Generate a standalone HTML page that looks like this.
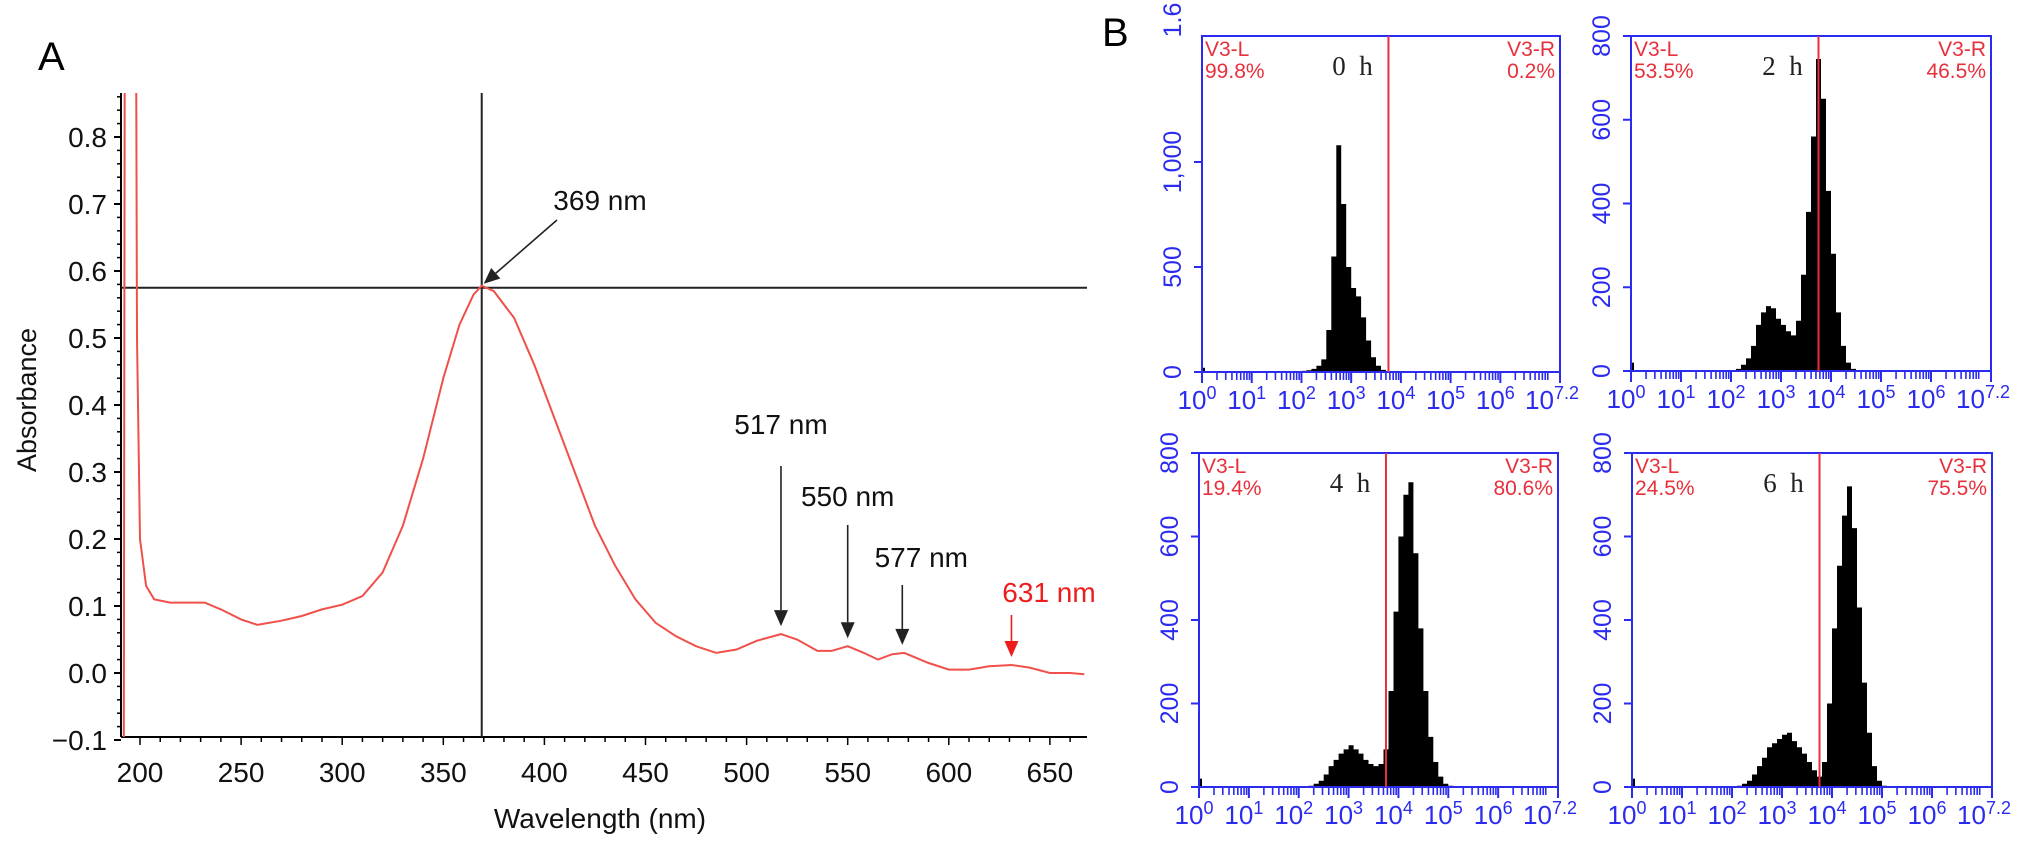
<!DOCTYPE html>
<html><head><meta charset="utf-8"><style>
html,body{margin:0;padding:0;background:#fff;}
svg{display:block;}
</style></head><body>
<svg id="fig" xmlns="http://www.w3.org/2000/svg" width="2032" height="848" viewBox="0 0 2032 848">
<defs><clipPath id="clipA"><rect x="121" y="93" width="966" height="644"/></clipPath></defs>
<text x="38" y="70" font-family="Liberation Sans, sans-serif" font-size="40">A</text>
<text x="1102" y="46" font-family="Liberation Sans, sans-serif" font-size="40">B</text>
<g id="gA"></g>
<g id="gB"></g>
</svg>
<script>
// ---- Panel A data ----
const absWavelength=[192,192.5,198,198.5,200,203,207,215,225,232,240,250,258,270,280,290,300,310,320,330,340,350,358,365,369,375,385,395,405,415,425,435,445,455,465,475,485,495,505,517,525,535,542,550,558,565,572,578,590,600,610,620,631,640,650,660,667];
const absValues=[-0.1,1.0,1.0,0.5,0.2,0.13,0.11,0.105,0.105,0.105,0.095,0.08,0.072,0.078,0.085,0.095,0.102,0.115,0.15,0.22,0.32,0.44,0.52,0.565,0.578,0.57,0.53,0.46,0.38,0.3,0.22,0.16,0.11,0.075,0.055,0.04,0.03,0.035,0.048,0.058,0.05,0.033,0.033,0.04,0.03,0.02,0.028,0.03,0.015,0.005,0.005,0.01,0.012,0.008,0.0,0.0,-0.002];
const absYTicks=[-0.1,0.0,0.1,0.2,0.3,0.4,0.5,0.6,0.7,0.8];
const absXTicks=[200,250,300,350,400,450,500,550,600,650];
const peakNm=[517,550,577];
const peakLabels=["517 nm","550 nm","577 nm"];
const mainPeakNm=369, mainPeakAbs=0.575, redPeakNm=631;

// ---- Panel B data ----
const histStart=[2.0,2.0,2.2,2.1];
const histCounts0=[5,8,15,30,60,200,550,1080,800,500,400,360,260,150,70,30,10,3];
const histCounts2=[2,5,15,30,60,110,140,155,150,125,110,95,85,120,230,380,560,745,650,430,280,140,60,20,5];
const histCounts4=[3,8,15,30,50,65,80,90,100,90,80,65,55,50,55,90,230,420,600,700,730,560,380,230,120,60,25,8,3];
const histCounts6=[3,8,15,30,50,70,95,105,115,125,130,110,95,80,60,40,25,60,200,380,530,650,720,620,430,250,130,50,15,3];
const histTimes=["0 h","2 h","4 h","6 h"];
const leftPct=["99.8%","53.5%","19.4%","24.5%"];
const rightPct=["0.2%","46.5%","80.6%","75.5%"];
const histYMax=[1600,800,800,800];
const gateLog=3.75;
const xDecades=[0,1,2,3,4,5,6];

const NS="http://www.w3.org/2000/svg";
function mk(tag,attrs,parent,txt){const e=document.createElementNS(NS,tag);for(const k in attrs)e.setAttribute(k,attrs[k]);if(txt!==undefined)e.textContent=txt;parent.appendChild(e);return e;}

// ---- Panel A ----
const gA=document.getElementById('gA');
const AX={l:121,r:1087,t:93,b:737};
const xA=w=>140+(w-200)*2.022;
const yA=v=>673-v*670;
const FA="Liberation Sans, sans-serif";
let e;
e=mk('line',{x1:AX.l,y1:AX.t,x2:AX.l,y2:AX.b,stroke:'#000','stroke-width':2},gA);

e=mk('line',{x1:AX.l,y1:AX.b,x2:AX.r,y2:AX.b,stroke:'#000','stroke-width':2},gA);

for(let v=-0.1;v<=0.861;v+=0.02){const y=yA(v);if(y<AX.t)continue;
 e=mk('line',{x1:AX.l-4,y1:y,x2:AX.l,y2:y,stroke:'#000','stroke-width':1.5},gA);
 }
absYTicks.forEach(v=>{const y=yA(v);
 e=mk('line',{x1:AX.l-7,y1:y,x2:AX.l,y2:y,stroke:'#000','stroke-width':2},gA);
 
 e=mk('text',{x:107,y:y+10,'text-anchor':'end','font-family':FA,'font-size':28,fill:'#111'},gA,(v<0?'\u2212':'')+Math.abs(v).toFixed(1));
 });
for(let w=200;w<=667;w+=10){const x=xA(w);
 e=mk('line',{x1:x,y1:AX.b,x2:x,y2:AX.b+(w%50==0?8:5),stroke:'#000','stroke-width':1.5},gA);
 }
absXTicks.forEach(w=>{
 e=mk('text',{x:xA(w),y:782,'text-anchor':'middle','font-family':FA,'font-size':28,fill:'#111'},gA,String(w));
 });
e=mk('text',{x:600,y:828,'text-anchor':'middle','font-family':FA,'font-size':28,fill:'#111'},gA,'Wavelength (nm)');

e=mk('text',{x:0,y:0,transform:'translate(36,400) rotate(-90)','text-anchor':'middle','font-family':FA,'font-size':27,fill:'#111'},gA,'Absorbance');

e=mk('line',{x1:AX.l,y1:yA(mainPeakAbs),x2:AX.r,y2:yA(mainPeakAbs),stroke:'#222','stroke-width':2},gA);

e=mk('line',{x1:xA(mainPeakNm),y1:AX.t,x2:xA(mainPeakNm),y2:AX.b,stroke:'#222','stroke-width':2},gA);

const pts=absWavelength.map((w,i)=>xA(w).toFixed(1)+','+yA(absValues[i]).toFixed(1)).join(' ');
e=mk('polyline',{points:pts,fill:'none',stroke:'#f0504a','stroke-width':2,'clip-path':'url(#clipA)'},gA);

function arrow(x1,y1,x2,y2,col,name){
 const ang=Math.atan2(y2-y1,x2-x1),L=16,W=7;
 const bx=x2-L*Math.cos(ang),by=y2-L*Math.sin(ang);
 e=mk('line',{x1:x1,y1:y1,x2:bx,y2:by,stroke:col,'stroke-width':1.6},gA);
 
 const p=[x2+','+y2,(bx+W*Math.sin(ang))+','+(by-W*Math.cos(ang)),(bx-W*Math.sin(ang))+','+(by+W*Math.cos(ang))].join(' ');
 e=mk('polygon',{points:p,fill:col},gA);
 }
arrow(557,220,xA(mainPeakNm)+2,yA(mainPeakAbs)-4,'#222','arrow-369');
e=mk('text',{x:600,y:210,'text-anchor':'middle','font-family':FA,'font-size':28,fill:'#111'},gA,mainPeakNm+' nm');

const peakTop=[466,525,585];const peakTextY=[434,506,567];
peakNm.forEach((w,i)=>{const x=xA(w);const v=absValues[absWavelength.indexOf(absWavelength.reduce((a,b)=>Math.abs(b-w)<Math.abs(a-w)?b:a))];
 arrow(x,peakTop[i],x,yA(v)-8,'#222','arrow-'+w);
 e=mk('text',{x:x+(i==2?19:0),y:peakTextY[i],'text-anchor':'middle','font-family':FA,'font-size':28,fill:'#111'},gA,peakLabels[i]);
 });
arrow(xA(redPeakNm),615,xA(redPeakNm),657,'#ee1c1c','arrow-631');
e=mk('text',{x:1049,y:602,'text-anchor':'middle','font-family':FA,'font-size':28,fill:'#ee1c1c'},gA,redPeakNm+' nm');


// ---- Panel B ----
const gB=document.getElementById('gB');
const panels=[{l:1202,r:1560,t:36,b:372},{l:1631,r:1991,t:36,b:371},{l:1199,r:1558,t:453,b:787},{l:1632,r:1992,t:453,b:787}];
const counts=[histCounts0,histCounts2,histCounts4,histCounts6];
const yTickSets=[[0,500,1000],[0,200,400,600,800],[0,200,400,600,800],[0,200,400,600,800]];
const yTickText=[["0","500","1,000"],["0","200","400","600","800"],["0","200","400","600","800"],["0","200","400","600","800"]];
const BLUE='#2b2bf0',RED='#e8303c';
panels.forEach((P,pi)=>{
 const g=mk('g',{},gB);
 
 const xs=lg=>P.l+lg/7.2*(P.r-P.l);
 const ys=c=>P.b-c/histYMax[pi]*(P.b-P.t);
 let d='M'+xs(histStart[pi])+','+P.b;
 counts[pi].forEach((c,i)=>{const x0=xs(histStart[pi]+i*0.1),x1=xs(histStart[pi]+(i+1)*0.1);d+=' L'+x0.toFixed(1)+','+ys(c).toFixed(1)+' L'+x1.toFixed(1)+','+ys(c).toFixed(1);});
 d+=' L'+xs(histStart[pi]+counts[pi].length*0.1)+','+P.b+' Z';
 e=mk('path',{d:d,fill:'#000'},g);
 
 e=mk('line',{x1:P.l+2,y1:P.b,x2:P.l+2,y2:ys(20),stroke:'#000','stroke-width':2},g);
 
 e=mk('rect',{x:P.l,y:P.t,width:P.r-P.l,height:P.b-P.t,fill:'none',stroke:BLUE,'stroke-width':2},g);
 
 e=mk('line',{x1:xs(gateLog),y1:P.t,x2:xs(gateLog),y2:P.b,stroke:RED,'stroke-width':2},g);
 
 yTickSets[pi].forEach((v,i)=>{const y=ys(v);
  e=mk('line',{x1:P.l-8,y1:y,x2:P.l,y2:y,stroke:BLUE,'stroke-width':2},g);
  
  e=mk('text',{x:0,y:0,transform:'translate('+(P.l-21)+','+y+') rotate(-90)','text-anchor':'middle','font-family':FA,'font-size':25,fill:BLUE},g,yTickText[pi][i]);
  });
 if(pi==0){e=mk('text',{x:0,y:0,transform:'translate('+(P.l-21)+',20) rotate(-90)','text-anchor':'middle','font-family':FA,'font-size':25,fill:BLUE},g,'1.6');
  }
 xDecades.forEach(dcd=>{
  e=mk('line',{x1:xs(dcd),y1:P.b,x2:xs(dcd),y2:P.b+11,stroke:BLUE,'stroke-width':2},g);
  
  for(let k=2;k<=9;k++){const lx=dcd+Math.log10(k);if(lx>7.2)break;
   e=mk('line',{x1:xs(lx),y1:P.b,x2:xs(lx),y2:P.b+8,stroke:BLUE,'stroke-width':1.6},g);
   }
 });
 e=mk('line',{x1:P.r,y1:P.b,x2:P.r,y2:P.b+11,stroke:BLUE,'stroke-width':2},g);
 
 const xl=xDecades.map(String).concat(['7.2']);
 xl.forEach((s,i)=>{const lx=i<7?xDecades[i]:7.2;
  const t=mk('text',{x:xs(lx)-(i==7?8:5),y:P.b+37,'text-anchor':'middle','font-family':FA,'font-size':26,fill:BLUE},g);
  
  mk('tspan',{},t,'10');
  mk('tspan',{dy:-10,'font-size':18},t,s);
 });
 e=mk('text',{x:P.l+3,y:P.t+20,'font-family':FA,'font-size':21,fill:RED},g,'V3-L');
 
 e=mk('text',{x:P.l+3,y:P.t+42,'font-family':FA,'font-size':21,fill:RED},g,leftPct[pi]);
 
 e=mk('text',{x:P.r-5,y:P.t+20,'text-anchor':'end','font-family':FA,'font-size':21,fill:RED},g,'V3-R');
 
 e=mk('text',{x:P.r-5,y:P.t+42,'text-anchor':'end','font-family':FA,'font-size':21,fill:RED},g,rightPct[pi]);
 
 e=mk('text',{x:xs(gateLog)-36,y:P.t+39,'text-anchor':'middle','font-family':'Liberation Serif, serif','font-size':27,fill:'#222','xml:space':'preserve'},g,histTimes[pi].replace(' ','\u00a0\u00a0'));
 
});
</script>
</body></html>
